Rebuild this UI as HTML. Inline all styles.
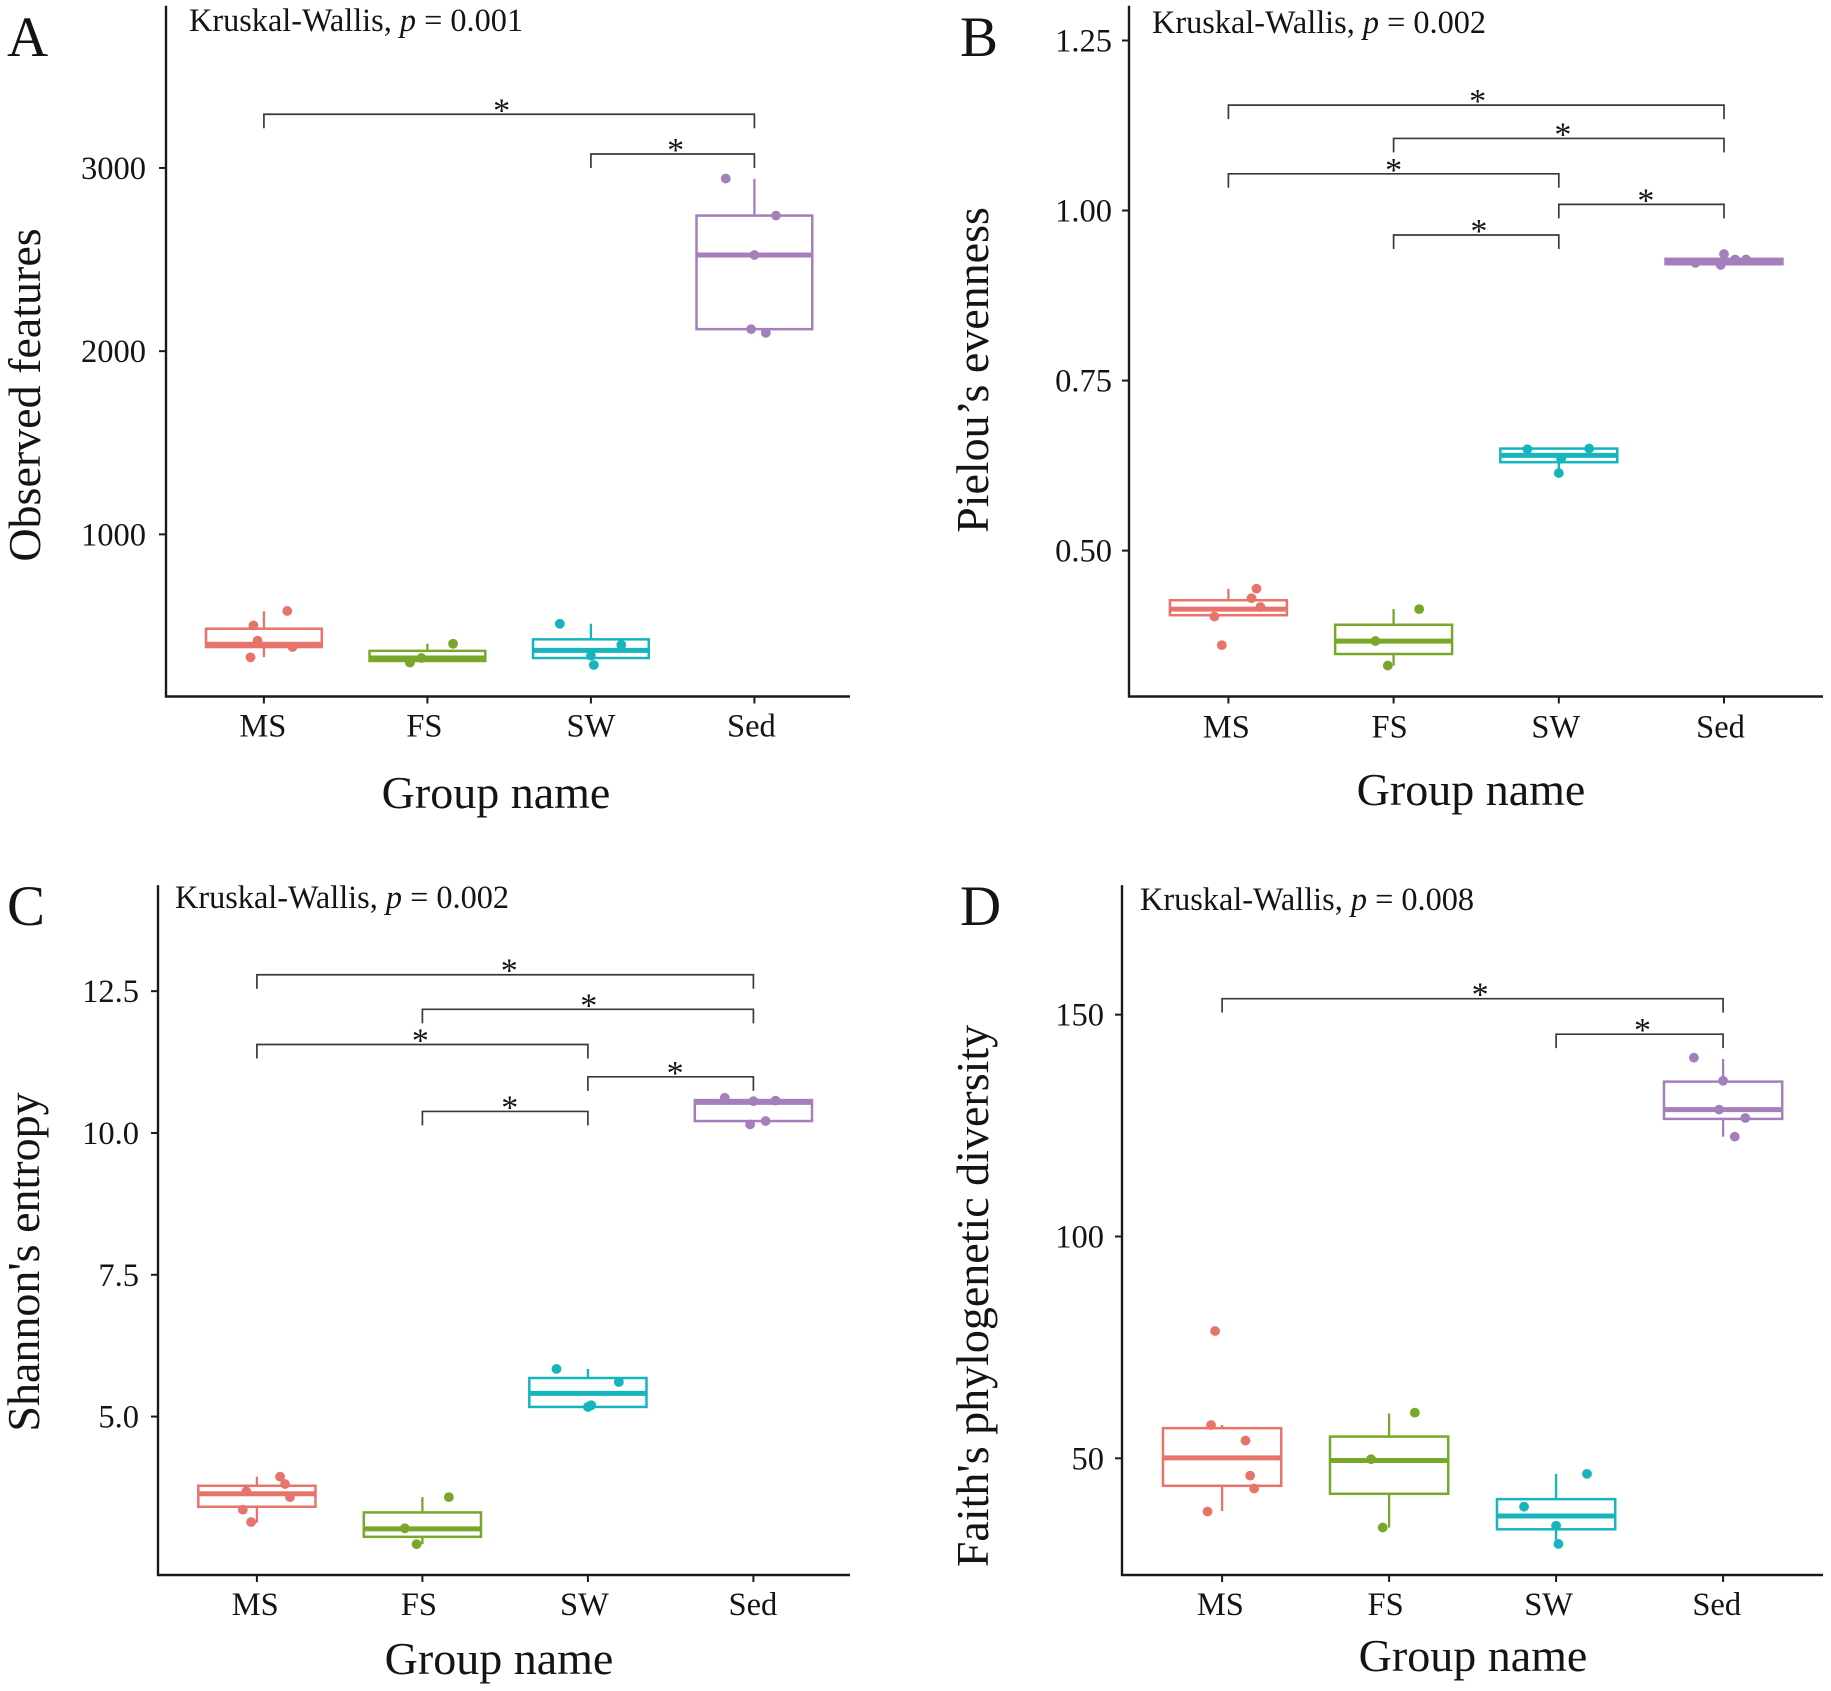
<!DOCTYPE html>
<html lang="en">
<head>
<meta charset="utf-8">
<title>Alpha diversity box plots</title>
<style>
html,body{margin:0;padding:0;background:#fff;}
svg{display:block;}
text{font-family:"Liberation Serif","Times New Roman",serif;fill:#141414;}
</style>
</head>
<body>
<svg id="chart" width="1831" height="1691" viewBox="0 0 1831 1691" xmlns="http://www.w3.org/2000/svg"></svg>
<script>
const categories = ['MS', 'FS', 'SW', 'Sed'];
const seriesColors = ['#E8736A', '#78A72B', '#16B4BC', '#A57FBB'];

/* Panel A: Observed features */
const aTicks = [1000, 2000, 3000];
const aTickLabels = ['1000', '2000', '3000'];
const aWhiskerLow = [330, 309, 325, 2120];
const aQ1 = [385, 309, 325, 2120];
const aMedian = [400, 325, 367, 2525];
const aQ3 = [485, 364, 427, 2740];
const aWhiskerHigh = [580, 403, 512, 2940];
const aPoints = [[582, 503, 420, 385, 329], [403, 325, 300], [512, 397, 338, 287], [2942, 2740, 2525, 2120, 2100]];
const aJitter = [[0.143, -0.064, -0.039, 0.175, -0.082], [0.157, -0.036, -0.107], [-0.19, 0.186, 0, 0.018], [-0.175, 0.132, 0, -0.02, 0.07]];
const aBracketFrom = [0, 2];
const aBracketTo = [3, 3];
const aBracketLevel = [3293, 3076];
const aStarAt = [1.454, 2.518];

/* Panel B: Pielou's evenness */
const bTicks = [0.5, 0.75, 1.0, 1.25];
const bTickLabels = ['0.50', '0.75', '1.00', '1.25'];
const bWhiskerLow = [0.405, 0.331, 0.614, 0.920];
const bQ1 = [0.405, 0.348, 0.630, 0.921];
const bMedian = [0.414, 0.367, 0.640, 0.925];
const bQ3 = [0.427, 0.391, 0.650, 0.929];
const bWhiskerHigh = [0.444, 0.414, 0.650, 0.936];
const bPoints = [[0.444, 0.430, 0.417, 0.403, 0.361], [0.414, 0.367, 0.331], [0.649, 0.650, 0.635, 0.614], [0.936, 0.928, 0.928, 0.923, 0.920]];
const bJitter = [[0.17, 0.14, 0.194, -0.085, -0.04], [0.155, -0.11, -0.035], [-0.19, 0.184, 0.014, 0], [0, 0.067, 0.134, -0.173, -0.02]];
const bBracketFrom = [0, 1, 0, 2, 1];
const bBracketTo = [3, 3, 2, 3, 2];
const bBracketLevel = [1.155, 1.106, 1.054, 1.009, 0.964];
const bStarAt = [1.509, 2.025, 1.0, 2.527, 1.516];

/* Panel C: Shannon's entropy */
const cTicks = [5, 7.5, 10, 12.5];
const cTickLabels = ['5.0', '7.5', '10.0', '12.5'];
const cWhiskerLow = [3.13, 2.75, 5.17, 10.21];
const cQ1 = [3.41, 2.88, 5.17, 10.21];
const cMedian = [3.64, 3.02, 5.41, 10.54];
const cQ3 = [3.78, 3.31, 5.68, 10.58];
const cWhiskerHigh = [3.94, 3.58, 5.84, 10.62];
const cPoints = [[3.94, 3.81, 3.68, 3.58, 3.36, 3.14], [3.58, 3.03, 2.75], [5.84, 5.61, 5.20, 5.17], [10.62, 10.56, 10.57, 10.21, 10.15]];
const cJitter = [[0.14, 0.17, -0.064, 0.2, -0.085, -0.035], [0.16, -0.106, -0.035], [-0.19, 0.187, 0.02, 0], [-0.173, 0, 0.134, 0.074, -0.02]];
const cBracketFrom = [0, 1, 0, 2, 1];
const cBracketTo = [3, 3, 2, 3, 2];
const cBracketLevel = [12.79, 12.18, 11.56, 10.99, 10.38];
const cStarAt = [1.525, 2.005, 0.988, 2.527, 1.528];

/* Panel D: Faith's phylogenetic diversity */
const dTicks = [50, 100, 150];
const dTickLabels = ['50', '100', '150'];
const dWhiskerLow = [38.1, 34.4, 30.7, 122.5];
const dQ1 = [43.8, 42.0, 34.0, 126.5];
const dMedian = [50.1, 49.5, 37.0, 128.6];
const dQ3 = [56.8, 54.9, 40.8, 134.9];
const dWhiskerHigh = [57.5, 60.1, 46.5, 140.0];
const dPoints = [[78.7, 57.5, 54.0, 46.1, 43.2, 38.0], [60.3, 49.8, 34.4], [46.5, 39.1, 34.8, 30.7], [140.3, 135.1, 128.6, 126.7, 122.5]];
const dJitter = [[-0.042, -0.066, 0.14, 0.168, 0.192, -0.087], [0.154, -0.108, -0.038], [0.185, -0.192, 0, 0.014], [-0.175, 0, -0.024, 0.133, 0.07]];
const dBracketFrom = [0, 2];
const dBracketTo = [3, 3];
const dBracketLevel = [153.6, 145.6];
const dStarAt = [1.545, 2.517];

const panels = [
  { id: 'a', letter: 'A', pValue: '0.001', yTitle: 'Observed features',
    ticks: aTicks, tickLabels: aTickLabels, low: aWhiskerLow, q1: aQ1, med: aMedian, q3: aQ3, high: aWhiskerHigh,
    points: aPoints, jitter: aJitter, from: aBracketFrom, to: aBracketTo, level: aBracketLevel, starAt: aStarAt,
    domain: [115, 3885], top: 5.8, bottom: 696.5, axisX: 166, axisEnd: 850, x0: 263.9, step: 163.5, tickDx: -3,
    letterX: 7, letterY: 56, kwX: 189, kwY: 31, titleX: 40, titleY: 395, xTitleX: 496, xTitleY: 808, xLabelDy: 0, xLabelDx: [-1, -3, 0, -3] },
  { id: 'b', letter: 'B', pValue: '0.002', yTitle: 'Pielou\u2019s evenness',
    ticks: bTicks, tickLabels: bTickLabels, low: bWhiskerLow, q1: bQ1, med: bMedian, q3: bQ3, high: bWhiskerHigh,
    points: bPoints, jitter: bJitter, from: bBracketFrom, to: bBracketTo, level: bBracketLevel, starAt: bStarAt,
    domain: [0.2855, 1.301], top: 5.8, bottom: 696.5, axisX: 1129, axisEnd: 1823, x0: 1228.4, step: 165.2, tickDx: 0,
    letterX: 960, letterY: 56, kwX: 1152, kwY: 33, titleX: 988, titleY: 370, xTitleX: 1471, xTitleY: 805, xLabelDy: 1, xLabelDx: [-2, -4, -3, -3.5] },
  { id: 'c', letter: 'C', pValue: '0.002', yTitle: 'Shannon\'s entropy',
    ticks: cTicks, tickLabels: cTickLabels, low: cWhiskerLow, q1: cQ1, med: cMedian, q3: cQ3, high: cWhiskerHigh,
    points: cPoints, jitter: cJitter, from: cBracketFrom, to: cBracketTo, level: cBracketLevel, starAt: cStarAt,
    domain: [2.207, 14.37], top: 885.1, bottom: 1575, axisX: 158, axisEnd: 850, x0: 256.9, step: 165.5, tickDx: -2,
    letterX: 7, letterY: 925, kwX: 175, kwY: 908, titleX: 39, titleY: 1262, xTitleX: 499, xTitleY: 1674, xLabelDy: 0, xLabelDx: [-1.7, -3.5, -3.5, -0.5] },
  { id: 'd', letter: 'D', pValue: '0.008', yTitle: 'Faith\'s phylogenetic diversity',
    ticks: dTicks, tickLabels: dTickLabels, low: dWhiskerLow, q1: dQ1, med: dMedian, q3: dQ3, high: dWhiskerHigh,
    points: dPoints, jitter: dJitter, from: dBracketFrom, to: dBracketTo, level: dBracketLevel, starAt: dStarAt,
    domain: [23.7, 179.2], top: 885.1, bottom: 1575, axisX: 1122, axisEnd: 1823, x0: 1222.1, step: 167, tickDx: -1,
    letterX: 960, letterY: 925, kwX: 1140, kwY: 910, titleX: 988, titleY: 1296, xTitleX: 1473, xTitleY: 1671, xLabelDy: 0, xLabelDx: [-1.7, -3.5, -7.5, -6.4] }
];

const SVG_NS = 'http://www.w3.org/2000/svg';
const root = document.getElementById('chart');

function make(tag, parent, props, content) {
  const el = document.createElementNS(SVG_NS, tag);
  for (const key in props) el.setAttribute(key, props[key]);
  if (content !== undefined) el.textContent = content;
  parent.appendChild(el);
  return el;
}

panels.forEach(function (p) {
  const yScale = function (v) {
    return p.bottom - (v - p.domain[0]) / (p.domain[1] - p.domain[0]) * (p.bottom - p.top);
  };
  const xScale = function (i) {
    return p.x0 + i * p.step;
  };
  const boxHalf = 0.354 * p.step;
  const group = make('g', root, {});
  
  

  const letter = make('text', group, { x: p.letterX, y: p.letterY, 'font-size': 57 }, p.letter);
  
  

  const kw = make('text', group, { x: p.kwX, y: p.kwY, 'font-size': 32.3 });
  
  
  make('tspan', kw, {}, 'Kruskal-Wallis, ');
  make('tspan', kw, { 'font-style': 'italic' }, 'p');
  make('tspan', kw, {}, ' = ' + p.pValue);

  const yTitle = make('text', group, { x: 0, y: 0, 'font-size': 46, 'text-anchor': 'middle', transform: 'translate(' + p.titleX + ',' + p.titleY + ') rotate(-90)' }, p.yTitle);
  
  

  const xTitle = make('text', group, { x: p.xTitleX, y: p.xTitleY, 'font-size': 46, 'text-anchor': 'middle' }, 'Group name');
  
  

  const yAxis = make('line', group, { x1: p.axisX, x2: p.axisX, y1: p.top, y2: p.bottom + 1, stroke: '#1a1a1a', 'stroke-width': 2.4 });
  
  

  const xAxis = make('line', group, { x1: p.axisX - 1, x2: p.axisEnd, y1: p.bottom, y2: p.bottom, stroke: '#1a1a1a', 'stroke-width': 2.4 });
  
  

  p.ticks.forEach(function (t, i) {
    const tick = make('line', group, { x1: p.axisX - 7, x2: p.axisX, y1: yScale(t), y2: yScale(t), stroke: '#1a1a1a', 'stroke-width': 2 });
    
    
    const label = make('text', group, { x: p.axisX - 17 + p.tickDx, y: yScale(t) + 11, 'font-size': 32.5, 'text-anchor': 'end' }, p.tickLabels[i]);
    
    
  });

  categories.forEach(function (cat, i) {
    const cx = xScale(i);
    const color = seriesColors[i];

    const tick = make('line', group, { x1: cx, x2: cx, y1: p.bottom, y2: p.bottom + 7, stroke: '#1a1a1a', 'stroke-width': 2 });
    
    

    const label = make('text', group, { x: cx + p.xLabelDx[i], y: p.bottom + 40 + p.xLabelDy, 'font-size': 32.5, 'text-anchor': 'middle' }, cat);
    
    

    const whiskerHigh = make('line', group, { x1: cx, x2: cx, y1: yScale(p.q3[i]), y2: yScale(p.high[i]), stroke: color, 'stroke-width': 2.3 });
    
    

    const whiskerLow = make('line', group, { x1: cx, x2: cx, y1: yScale(p.q1[i]), y2: yScale(p.low[i]), stroke: color, 'stroke-width': 2.3 });
    
    

    const box = make('rect', group, { x: cx - boxHalf, y: yScale(p.q3[i]), width: boxHalf * 2, height: yScale(p.q1[i]) - yScale(p.q3[i]), fill: 'none', stroke: color, 'stroke-width': 2.5 });
    
    

    const median = make('line', group, { x1: cx - boxHalf, x2: cx + boxHalf, y1: yScale(p.med[i]), y2: yScale(p.med[i]), stroke: color, 'stroke-width': 5 });
    
    

    p.points[i].forEach(function (v, j) {
      const dot = make('circle', group, { cx: xScale(i + p.jitter[i][j]), cy: yScale(v), r: 4.9, fill: color });
      
      
    });
  });

  p.level.forEach(function (lvl, k) {
    const yb = yScale(lvl);
    const x1 = xScale(p.from[k]);
    const x2 = xScale(p.to[k]);
    const bracket = make('path', group, { d: 'M' + x1 + ' ' + (yb + 14) + 'V' + yb + 'H' + x2 + 'V' + (yb + 14), fill: 'none', stroke: '#3a3a3a', 'stroke-width': 1.7 });
    
    
    const star = make('text', group, { x: xScale(p.starAt[k]), y: yb + 7, 'font-size': 34, 'text-anchor': 'middle' }, '*');
    
    
  });
});
</script>
</body>
</html>
